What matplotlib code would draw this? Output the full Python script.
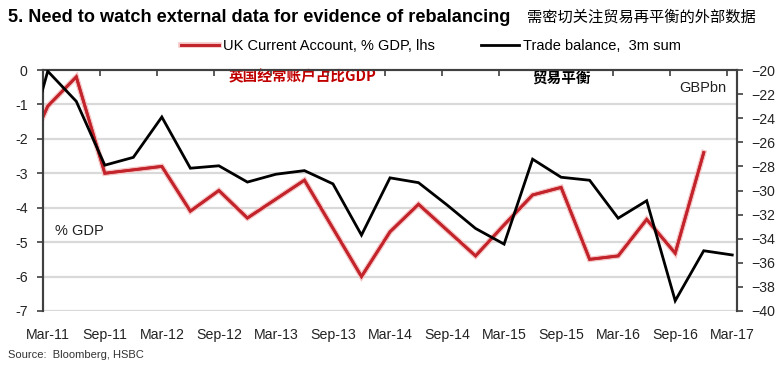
import matplotlib
matplotlib.use("Agg")
import matplotlib.pyplot as plt
import matplotlib.patheffects as pe

# ---- data ----
quarters_ca = ["Dec-10", "Mar-11", "Jun-11", "Sep-11", "Dec-11", "Mar-12", "Jun-12", "Sep-12", "Dec-12",
               "Mar-13", "Jun-13", "Sep-13", "Dec-13", "Mar-14", "Jun-14", "Sep-14", "Dec-14",
               "Mar-15", "Jun-15", "Sep-15", "Dec-15", "Mar-16", "Jun-16", "Sep-16", "Dec-16"]
current_account = [-2.9, -1.05, -0.2, -3.0, -2.9, -2.8, -4.1, -3.5, -4.3,
                   -3.75, -3.2, -4.6, -6.0, -4.7, -3.9, -4.65, -5.4,
                   -4.5, -3.63, -3.41, -5.5, -5.4, -4.34, -5.32, -2.4]
quarters_tb = quarters_ca + ["Mar-17"]
trade_balance = [-28.6, -20.1, -22.6, -27.9, -27.25, -23.9, -28.15, -27.95, -29.3,
                 -28.65, -28.35, -29.45, -33.7, -28.95, -29.35, -31.2, -33.15,
                 -34.45, -27.4, -28.9, -29.15, -32.3, -30.85, -39.15, -35.0, -35.35]
xtick_labels = ["Mar-11", "Sep-11", "Mar-12", "Sep-12", "Mar-13", "Sep-13", "Mar-14",
                "Sep-14", "Mar-15", "Sep-15", "Mar-16", "Sep-16", "Mar-17"]

MON = {"Jan": 1, "Feb": 2, "Mar": 3, "Apr": 4, "May": 5, "Jun": 6, "Jul": 7, "Aug": 8,
       "Sep": 9, "Oct": 10, "Nov": 11, "Dec": 12}

def month_index(lbl):
    m, y = lbl.split("-")
    return (2000 + int(y) - 2011) * 12 + MON[m] - 3

x_ca = [month_index(q) + 0.5 for q in quarters_ca]
x_tb = [month_index(q) + 0.5 for q in quarters_tb]

plt.rcParams['font.family'] = ['Liberation Sans', 'DejaVu Sans']

fig = plt.figure(figsize=(7.84, 3.68), dpi=100)
ax = fig.add_axes([43/784, 1-311/368, (737-43)/784, (311-70)/368])
ax2 = ax.twinx()

red = '#c3242b'
ax.plot(x_ca, current_account, color=red, lw=2.0, solid_joinstyle='miter',
        path_effects=[pe.withStroke(linewidth=4.0, foreground='#f4c4c4'), pe.Normal()],
        label="UK Current Account, % GDP, lhs", zorder=3)
ax2.plot(x_tb, trade_balance, color='black', lw=2.0, solid_joinstyle='miter',
         label="Trade balance,  3m sum", zorder=3)

ax.set_xlim(0, 73)
ax.set_ylim(-7, 0)
ax2.set_ylim(-40, -20)
ax.set_yticks(range(-7, 1))
ax.set_yticklabels([str(v) for v in range(-7, 1)])
ax2.set_yticks(range(-40, -19, 2))

for y in range(-7, 0):
    ax.axhline(y, color='#d9d9d9', lw=1.6, zorder=1)

TS = 10.2
ax.set_xticks(range(0, 73, 6))
ax.set_xticks([month_index(l) + 0.5 for l in xtick_labels], labels=xtick_labels, minor=True)
ax.tick_params(axis='x', which='major', top=True, bottom=False, direction='in',
               length=4, width=1.2, color='#404040', labelbottom=False, labeltop=False)
ax.tick_params(axis='x', which='minor', bottom=True, top=False, length=0,
               labelbottom=True, labelsize=TS, pad=12, labelcolor='#222222')
ax.tick_params(axis='y', length=4, width=1.2, color='#404040', labelsize=TS, labelcolor='#222222', pad=7)
ax2.tick_params(axis='y', length=4, width=1.2, color='#404040', labelsize=TS, labelcolor='#222222', pad=6)

for a in (ax, ax2):
    a.spines['bottom'].set_visible(False)
    for s in ('top', 'left', 'right'):
        a.spines[s].set_color('#404040')
        a.spines[s].set_linewidth(1.5)

ax.text(0.017, 0.33, "% GDP", transform=ax.transAxes, fontsize=10.5, color='#222222', va='center')
ax.text(0.985, 0.925, "GBPbn", transform=ax.transAxes, fontsize=10.5, color='#222222', va='center', ha='right')

cjk = ['Noto Sans CJK SC', 'DejaVu Sans']
ax.text(0.267, 0.975, "英国经常账户占比GDP", transform=ax.transAxes, fontsize=10.5,
        color='#c00000', va='center', family=cjk, fontweight='bold')
ax.text(0.705, 0.97, "贸易平衡", transform=ax.transAxes, fontsize=10.5,
        color='black', va='center', family=cjk, fontweight='bold')

fig.text(8/784, 1-17/368, "5. Need to watch external data for evidence of rebalancing",
         fontsize=13.1, fontweight='bold', va='center')
fig.text(527/784, 1-17/368, "需密切关注贸易再平衡的外部数据", fontsize=11, family=cjk, va='center')
fig.text(8/784, 1-355/368, "Source:  Bloomberg, HSBC", fontsize=8, color='#333333', va='center')

h1, l1 = ax.get_legend_handles_labels()
h2, l2 = ax2.get_legend_handles_labels()
fig.legend(h1 + h2, l1 + l2, loc='center', bbox_to_anchor=(431/784, 1-46/368), ncol=2,
           frameon=False, fontsize=10.5, handlelength=2.6, handletextpad=0.3, columnspacing=3.15)

fig.savefig("out.png", dpi=100)
